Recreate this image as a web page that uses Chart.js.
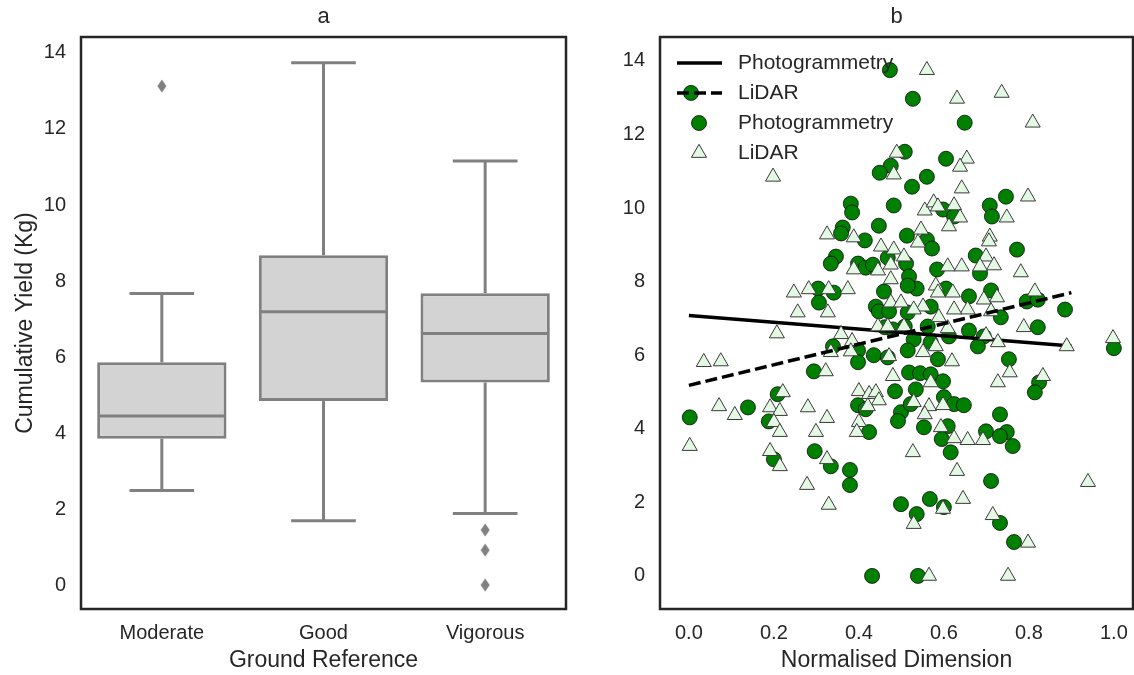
<!DOCTYPE html>
<html>
<head>
<meta charset="UTF-8">
<title>Cumulative yield</title>
<script src="https://cdn.jsdelivr.net/npm/chart.js@4.4.1/dist/chart.umd.min.js"></script>
<style>
  body { margin: 0; background: #fff; }
  #left { position: absolute; left: 0; top: 0; }
  #right { position: absolute; left: 580px; top: 0; }
</style>
</head>
<body>
<canvas id="left" width="580" height="675"></canvas>
<canvas id="right" width="554" height="675"></canvas>
<script>
// panel a: box plot summary per class
const categories = ['Moderate', 'Good', 'Vigorous'];
const boxLow = [2.49, 1.69, 1.88];
const boxQ1 = [3.85, 4.84, 5.33];
const boxMedian = [4.45, 7.19, 6.62];
const boxQ3 = [5.86, 8.68, 7.68];
const boxHigh = [7.67, 13.74, 11.16];
const outlierCat = ['Moderate', 'Vigorous', 'Vigorous', 'Vigorous'];
const outlierVal = [13.13, 1.45, 0.92, 0.0];

// panel b: yield vs normalised dimension
const photoX = [0.005, 0.473, 0.527, 0.649, 0.508, 0.475, 0.449, 0.605, 0.56, 0.525,
  0.381, 0.384, 0.482, 0.746, 0.708, 0.713, 0.598, 0.624, 0.447, 0.362,
  0.358, 0.414, 0.513, 0.56, 0.572, 0.346, 0.334, 0.398, 0.416, 0.433,
  0.468, 0.511, 0.518, 0.536, 0.515, 0.459, 0.675, 0.685, 0.772, 0.584,
  0.605, 0.659, 0.711, 0.734, 0.569, 0.44, 0.447, 0.471, 0.515, 0.304,
  0.306, 0.341, 0.795, 0.821, 0.885, 0.821, 0.659, 1.0, 0.562, 0.508,
  0.461, 0.48, 0.612, 0.694, 0.68, 0.529, 0.569, 0.515, 0.339, 0.398,
  0.435, 0.468, 0.398, 0.586, 0.753, 0.518, 0.544, 0.569, 0.598, 0.294,
  0.824, 0.814, 0.485, 0.534, 0.209, 0.139, 0.002, 0.188, 0.2, 0.296,
  0.334, 0.379, 0.379, 0.431, 0.398, 0.416, 0.424, 0.499, 0.492, 0.522,
  0.553, 0.6, 0.624, 0.647, 0.732, 0.609, 0.595, 0.699, 0.748, 0.732,
  0.762, 0.616, 0.711, 0.499, 0.567, 0.6, 0.536, 0.732, 0.765, 0.539];
const photoY = [13.13, 13.75, 12.97, 12.32, 11.53, 11.15, 10.96, 11.34, 10.85, 10.58,
  10.12, 9.88, 10.07, 10.31, 10.07, 9.77, 9.96, 9.77, 9.52, 9.47,
  9.31, 9.12, 9.25, 9.14, 8.9, 8.68, 8.49, 8.49, 8.38, 8.46,
  8.65, 8.49, 8.14, 7.81, 7.89, 7.73, 8.71, 8.22, 8.87, 8.33,
  7.81, 7.6, 7.76, 7.03, 7.32, 7.32, 7.19, 7.19, 7.16, 7.81,
  7.43, 7.7, 7.46, 7.51, 7.24, 6.76, 6.67, 6.19, 6.78, 6.78,
  6.76, 6.7, 6.51, 6.51, 6.24, 6.43, 6.35, 6.13, 6.24, 6.13,
  6.0, 5.94, 5.81, 5.89, 5.89, 5.53, 5.51, 5.48, 5.29, 5.56,
  5.26, 4.99, 5.02, 5.07, 4.94, 4.58, 4.31, 4.2, 3.17, 3.39,
  2.98, 2.88, 2.47, 0.0, 4.64, 4.53, 3.91, 4.45, 4.21, 4.67,
  4.04, 4.86, 4.67, 4.64, 4.39, 4.07, 3.72, 3.93, 3.91, 3.8,
  3.53, 3.36, 2.58, 1.95, 2.09, 1.87, 1.68, 1.44, 0.92, 0.0];
const lidarX = [0.56, 0.631, 0.736, 0.809, 0.489, 0.482, 0.654, 0.638, 0.642, 0.198,
  0.798, 0.555, 0.576, 0.586, 0.624, 0.638, 0.748, 0.612, 0.546, 0.708,
  0.325, 0.388, 0.539, 0.482, 0.452, 0.506, 0.475, 0.706, 0.699, 0.718,
  0.685, 0.781, 0.609, 0.642, 0.388, 0.445, 0.475, 0.581, 0.586, 0.621,
  0.694, 0.725, 0.711, 0.656, 0.624, 0.551, 0.529, 0.475, 0.499, 0.814,
  0.788, 0.889, 0.998, 0.588, 0.609, 0.506, 0.445, 0.468, 0.699, 0.727,
  0.581, 0.551, 0.471, 0.619, 0.755, 0.569, 0.48, 0.727, 0.833, 0.247,
  0.282, 0.329, 0.374, 0.256, 0.327, 0.207, 0.035, 0.075, 0.358, 0.384,
  0.381, 0.334, 0.322, 0.221, 0.4, 0.424, 0.44, 0.002, 0.071, 0.108,
  0.191, 0.214, 0.2, 0.214, 0.191, 0.214, 0.28, 0.325, 0.299, 0.325,
  0.278, 0.329, 0.447, 0.421, 0.4, 0.395, 0.529, 0.565, 0.555, 0.598,
  0.593, 0.624, 0.656, 0.692, 0.527, 0.631, 0.939, 0.645, 0.598, 0.529,
  0.715, 0.798, 0.565, 0.751];
const lidarY = [13.75, 12.97, 13.13, 12.32, 11.5, 10.91, 11.34, 11.12, 10.53, 10.85,
  10.31, 9.93, 10.15, 10.04, 10.07, 9.74, 9.74, 9.5, 9.41, 9.22,
  9.28, 9.2, 9.06, 8.87, 8.95, 8.68, 8.46, 9.09, 8.68, 8.44,
  8.41, 8.25, 8.41, 8.41, 8.33, 8.3, 8.06, 7.89, 7.7, 7.7,
  7.51, 7.57, 7.19, 7.24, 7.24, 7.32, 7.24, 7.43, 7.43, 7.73,
  6.76, 6.24, 6.46, 7.03, 6.73, 6.78, 6.78, 6.78, 6.54, 6.35,
  6.24, 6.08, 5.97, 5.83, 5.53, 5.26, 5.43, 5.26, 5.43, 7.7,
  7.79, 7.79, 7.79, 7.16, 7.16, 6.59, 5.81, 5.83, 6.57, 6.38,
  6.1, 6.08, 5.56, 4.99, 5.02, 4.94, 4.99, 3.53, 4.61, 4.37,
  4.58, 4.48, 4.18, 3.91, 3.39, 2.98, 4.58, 4.29, 3.91, 3.17,
  2.47, 1.93, 4.77, 4.61, 4.18, 3.91, 4.72, 4.61, 4.39, 4.64,
  4.04, 3.74, 3.69, 3.69, 3.36, 2.85, 2.55, 2.09, 1.82, 1.41,
  1.65, 0.9, 0.0, 0.0];
const fitX = [0.0, 0.9];
const photoFit = [7.08, 6.25];
const lidarFit = [5.18, 7.70];

const yieldTicks = [0, 2, 4, 6, 8, 10, 12, 14];
const dimTicks = [0.0, 0.2, 0.4, 0.6, 0.8, 1.0];

const ink = '#262626';
Chart.defaults.font.family = "'Liberation Sans', Arial, sans-serif";
Chart.defaults.color = ink;

// gray diamond used for the box plot fliers
const diamond = document.createElement('canvas');
diamond.width = 10; diamond.height = 14;
(function () {
  const c = diamond.getContext('2d');
  c.fillStyle = '#808080';
  c.beginPath();
  c.moveTo(5, 0.5); c.lineTo(9.5, 7); c.lineTo(5, 13.5); c.lineTo(0.5, 7);
  c.closePath(); c.fill();
})();

const frame = {
  id: 'frame',
  afterDraw(chart) {
    const a = chart.chartArea, ctx = chart.ctx;
    ctx.save();
    ctx.strokeStyle = ink;
    ctx.lineWidth = 2.5;
    ctx.strokeRect(a.left, a.top, a.right - a.left, a.bottom - a.top);
    ctx.restore();
  }
};

const whiskers = {
  id: 'whiskers',
  afterDatasetsDraw(chart) {
    const ctx = chart.ctx, ys = chart.scales.y;
    const bars = chart.getDatasetMeta(0).data;
    const seg = (x1, y1, x2, y2) => { ctx.beginPath(); ctx.moveTo(x1, y1); ctx.lineTo(x2, y2); ctx.stroke(); };
    ctx.save();
    ctx.strokeStyle = '#808080';
    ctx.lineWidth = 3;
    bars.forEach((bar, i) => {
      const half = bar.width / 2, cap = bar.width / 4;
      const med = ys.getPixelForValue(boxMedian[i]);
      seg(bar.x - half + 1.5, med, bar.x + half - 1.5, med);
      const top = ys.getPixelForValue(boxHigh[i]), q3 = ys.getPixelForValue(boxQ3[i]);
      const low = ys.getPixelForValue(boxLow[i]), q1 = ys.getPixelForValue(boxQ1[i]);
      seg(bar.x, q3, bar.x, top);
      seg(bar.x - cap, top, bar.x + cap, top);
      seg(bar.x, q1, bar.x, low);
      seg(bar.x - cap, low, bar.x + cap, low);
    });
    ctx.restore();
  }
};

const insideLegend = {
  id: 'insideLegend',
  afterDraw(chart) {
    const ctx = chart.ctx, a = chart.chartArea;
    const rows = [2, 3, 0, 1];
    ctx.save();
    ctx.font = "21px 'Liberation Sans', Arial, sans-serif";
    ctx.textBaseline = 'middle';
    rows.forEach((di, k) => {
      const ds = chart.data.datasets[di];
      const y = a.top + 26 + k * 30;
      const x0 = a.left + 17;
      if (ds.showLine) {
        ctx.strokeStyle = ds.borderColor;
        ctx.lineWidth = ds.borderWidth;
        ctx.setLineDash(ds.borderDash || []);
        ctx.beginPath(); ctx.moveTo(x0, y); ctx.lineTo(x0 + 45, y); ctx.stroke();
        ctx.setLineDash([]);
      } else {
        ctx.fillStyle = ds.backgroundColor;
        ctx.strokeStyle = ds.borderColor;
        ctx.lineWidth = ds.borderWidth;
        Chart.helpers.drawPoint(ctx, { pointStyle: ds.pointStyle, radius: ds.pointRadius, borderWidth: ds.borderWidth }, x0 + 22, y);
      }
      ctx.fillStyle = ink;
      ctx.fillText(ds.label, a.left + 78, y);
    });
    ctx.restore();
  }
};

const tickFont = { size: 20 };
const titleFont = { size: 23 };

// top axis that only carries the panel letter, centred over the plot area
function panelAxis(letter, extra) {
  return Object.assign({
    position: 'top',
    grid: { display: false, drawTicks: false },
    border: { display: false },
    ticks: { display: false },
    title: { display: true, text: letter, font: { size: 22 }, padding: { top: 4, bottom: 0 } },
    afterFit: s => { s.height = 37; s.paddingLeft = 0; s.paddingRight = 0; }
  }, extra);
}

new Chart(document.getElementById('left'), {
  type: 'bar',
  data: {
    labels: categories,
    datasets: [{
      data: categories.map((c, i) => [boxQ1[i], boxQ3[i]]),
      backgroundColor: '#d3d3d3',
      borderColor: '#808080',
      borderWidth: 3,
      borderSkipped: false,
      barPercentage: 0.8,
      categoryPercentage: 1.0,
      order: 2
    }, {
      type: 'line',
      data: outlierCat.map((c, i) => ({ x: c, y: outlierVal[i] })),
      showLine: false,
      pointStyle: diamond,
      pointRadius: 6,
      order: 1
    }]
  },
  options: {
    responsive: false,
    animation: false,
    events: [],
    layout: { autoPadding: false, padding: { right: 14 } },
    plugins: {
      legend: { display: false },
      tooltip: { enabled: false }
    },
    scales: {
      x: {
        grid: { display: false, drawTicks: false },
        border: { display: false },
        ticks: { font: tickFont, padding: 12 },
        title: { display: true, text: 'Ground Reference', font: titleFont, padding: { top: 0, bottom: 1 } },
        afterFit: s => { s.height = 66; s.paddingLeft = 0; s.paddingRight = 0; }
      },
      top: panelAxis('a', { type: 'category', axis: 'x' }),
      y: {
        min: -0.63, max: 14.42,
        grid: { display: false, drawTicks: false },
        border: { display: false },
        afterBuildTicks: s => { s.ticks = yieldTicks.map(v => ({ value: v })); },
        ticks: { font: tickFont, padding: 15 },
        title: { display: true, text: 'Cumulative Yield (Kg)', font: titleFont, padding: { top: 12, bottom: 0 } },
        afterFit: s => { s.width = 81; }
      }
    }
  },
  plugins: [whiskers, frame]
});

new Chart(document.getElementById('right'), {
  type: 'scatter',
  data: {
    datasets: [{
      label: 'Photogrammetry',
      data: photoX.map((x, i) => ({ x: x, y: photoY[i] })),
      pointStyle: 'circle',
      pointRadius: 7.5,
      backgroundColor: '#008000',
      borderColor: '#0a0a0a',
      borderWidth: 0.8,
      order: 4
    }, {
      label: 'LiDAR',
      data: lidarX.map((x, i) => ({ x: x, y: lidarY[i] })),
      pointStyle: 'triangle',
      pointRadius: 8.7,
      backgroundColor: '#e3f9e3',
      borderColor: '#3a3a3a',
      borderWidth: 1,
      order: 2
    }, {
      label: 'Photogrammetry',
      data: fitX.map((x, i) => ({ x: x, y: photoFit[i] })),
      showLine: true,
      borderColor: '#000',
      borderWidth: 3.5,
      pointRadius: 0,
      order: 3
    }, {
      label: 'LiDAR',
      data: fitX.map((x, i) => ({ x: x, y: lidarFit[i] })),
      showLine: true,
      borderColor: '#000',
      borderWidth: 3.5,
      borderDash: [12, 5],
      pointRadius: 0,
      order: 1
    }]
  },
  options: {
    responsive: false,
    animation: false,
    events: [],
    layout: { autoPadding: false, padding: { right: 1 } },
    plugins: {
      legend: { display: false },
      tooltip: { enabled: false }
    },
    scales: {
      x: {
        min: -0.068, max: 1.045,
        grid: { display: false, drawTicks: false },
        border: { display: false },
        afterBuildTicks: s => { s.ticks = dimTicks.map(v => ({ value: v })); },
        ticks: { font: tickFont, padding: 12, callback: v => v.toFixed(1) },
        title: { display: true, text: 'Normalised Dimension', font: titleFont, padding: { top: 0, bottom: 1 } },
        afterFit: s => { s.height = 66; s.paddingLeft = 0; s.paddingRight = 0; }
      },
      top: panelAxis('b', { type: 'linear', axis: 'x', min: -0.068, max: 1.045 }),
      y: {
        min: -0.9, max: 14.65,
        grid: { display: false, drawTicks: false },
        border: { display: false },
        afterBuildTicks: s => { s.ticks = yieldTicks.map(v => ({ value: v })); },
        ticks: { font: tickFont, padding: 15 },
        afterFit: s => { s.width = 80; }
      }
    }
  },
  plugins: [frame, insideLegend]
});
</script>
</body>
</html>
